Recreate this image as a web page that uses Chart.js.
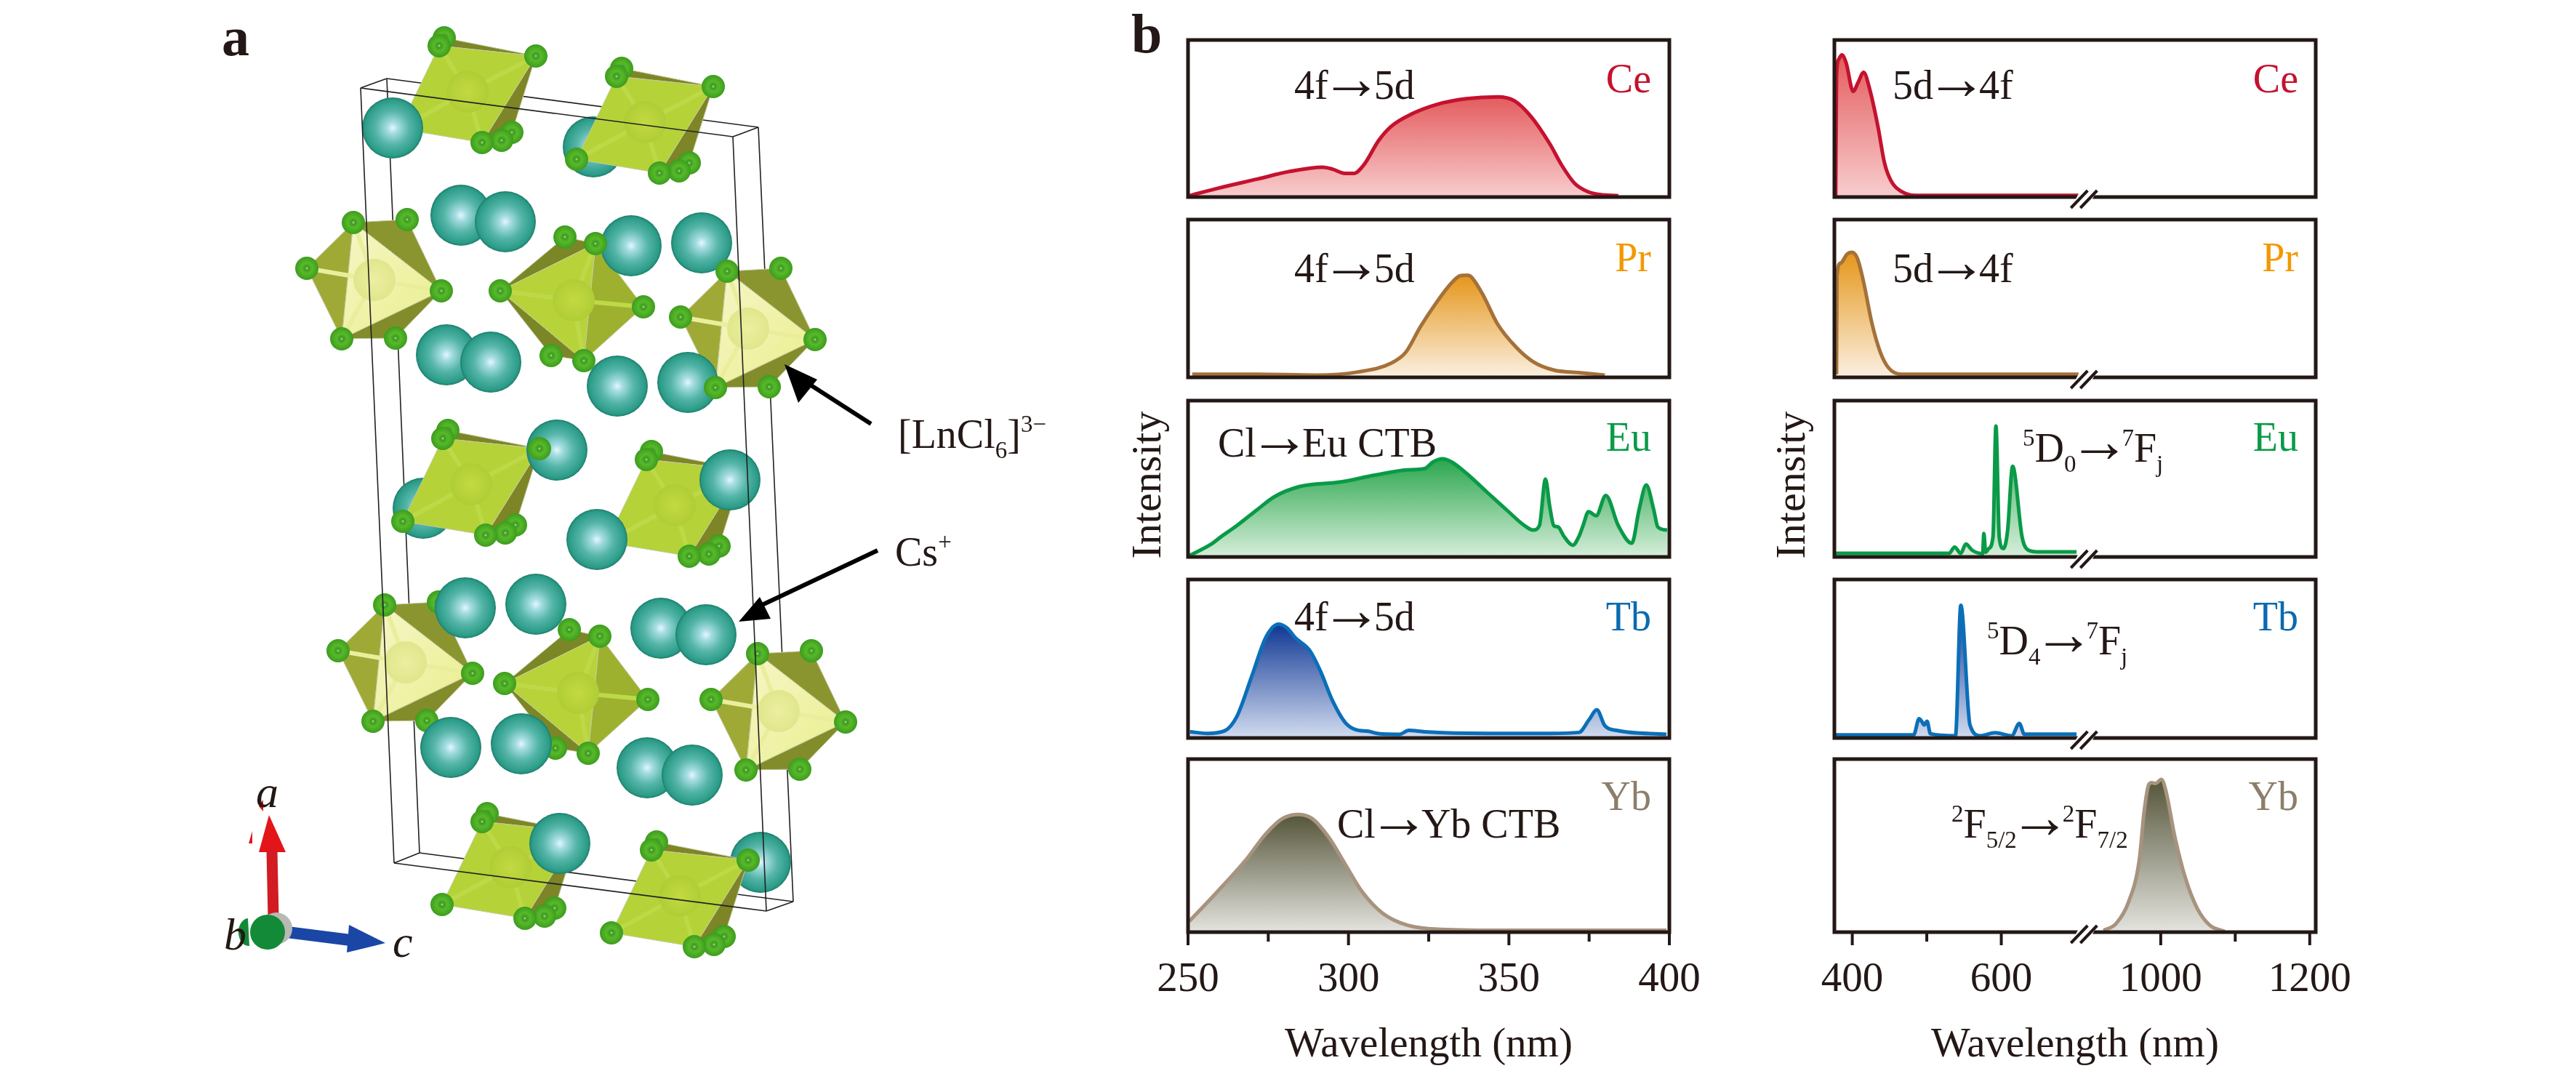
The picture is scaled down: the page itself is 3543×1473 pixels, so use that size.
<!DOCTYPE html>
<html>
<head>
<meta charset="utf-8">
<title>Lanthanide chloride excitation and emission spectra</title>
<script src="https://cdn.jsdelivr.net/npm/chart.js@4/dist/chart.umd.min.js"></script>
<style>
    html, body { margin: 0; background: #fff; }
    #page { position: relative; width: 3543px; height: 1473px; overflow: hidden; }
    #page canvas { position: absolute; }
    #overlay { position: absolute; left: 0; top: 0; z-index: 50; pointer-events: none; }
</style>
</head>
<body>
<div id="page"></div>
<script>
// excitation spectra, x in nm, y in % of panel height
const ceExNm = [250, 258.7, 271.7, 282, 291.9, 295, 298.4, 301.6, 304.9, 309.4, 313.3, 319.8, 327.6, 336.7, 346.4, 351.8, 357, 362.7, 366.6, 370.5, 374.4, 378.3, 384.1];
const ceExI = [0.6, 5.3, 11.5, 16.4, 19, 17.8, 15.2, 15, 20.8, 36, 45, 53, 59, 62.6, 63.8, 61.2, 51, 34, 19.8, 8.7, 3.6, 1.6, 0.8];
const prExNm = [251.3, 271.7, 289.9, 302.9, 313.3, 317.9, 322.4, 327.6, 332.2, 334.8, 336, 337, 338.3, 342, 346.4, 352.3, 357.5, 364, 371.8, 379.9];
const prExI = [2, 2, 1.4, 3.4, 9, 16, 32, 48, 60, 64.4, 64.6, 64.8, 63.6, 52, 34, 19, 10, 4.6, 3, 1.4];
const euExNm = [250, 257.4, 260, 265.2, 271.7, 276.9, 284.7, 297.7, 308.1, 318.5, 323.7, 326.3, 329.3, 332.2, 336.7, 343.2, 349.7, 354.9, 357.5, 359.5, 361.4, 362.7, 364, 365.3, 367.2, 369.9, 371.8, 373.1, 374.8, 377.2, 380.2, 384.1, 388.3, 390.6, 392.8, 395.1, 396.4, 399.3];
const euExI = [0.4, 8.4, 12.5, 20, 30.5, 38.5, 45, 48, 52.3, 55.7, 56.5, 60.7, 62.8, 60.7, 53.6, 41.4, 29.3, 20, 17.2, 20, 49.8, 32.6, 20, 19.2, 13, 7.5, 13, 20, 28.9, 26.4, 39.3, 20, 8.8, 30.5, 46, 30.5, 19.2, 17.2];
const tbExNm = [250.6, 256, 261.3, 265.2, 269.8, 274.3, 278.2, 280.8, 283.4, 288, 291.2, 295.1, 299, 302.3, 306.2, 309.4, 315.9, 318.8, 323.7, 343.2, 362.7, 371.8, 375, 377.4, 379.9, 383.5, 399.1];
const tbExI = [3.9, 2.9, 4.4, 13.5, 38.6, 63.7, 71.8, 69.5, 63.3, 55, 42.5, 23.2, 9.7, 5.2, 4.2, 2.7, 2.3, 4.8, 3.9, 2.9, 2.9, 3.5, 11.6, 17.8, 7.7, 4.8, 2.3];
const ybExNm = [250.4, 258.7, 267.8, 274.3, 279.5, 284.3, 288.6, 293.8, 299, 304.2, 310.7, 318.5, 328.9, 349.7, 399.1];
const ybExI = [6.3, 22.5, 41.2, 56.9, 65.7, 68, 65.7, 54.9, 39.2, 23.5, 10.8, 3.9, 1.6, 1, 1];

// emission spectra
const ceEmNm = [377.7, 378.8, 381.6, 386, 391.7, 401.2, 407.9, 415.2, 423.6, 434.8, 443.2, 451.6, 465.6, 490.8, 647.7, 703.8];
const ceEmI = [0.6, 76, 87.5, 90.5, 85.5, 67.3, 73, 79.4, 68.3, 44, 21.8, 10.7, 3.6, 1, 1, 1];
const prEmNm = [378.8, 379.4, 384.4, 392.8, 399.5, 406.8, 415.2, 426.4, 437.6, 448.8, 465.6, 703.8];
const prEmI = [2, 64.4, 72.4, 78, 79.3, 75.5, 60.4, 34.2, 16, 6, 2, 2];
const euEmNm = [377.7, 530, 537.3, 545.7, 552.4, 560.9, 575, 576.6, 579, 583.3, 588.9, 592.8, 597.3, 602.9, 608.5, 615.2, 628, 636.5, 647.7, 701];
const euEmI = [2.3, 2.3, 6.3, 2.3, 8.2, 4.3, 2.1, 15, 3, 5.4, 13, 83.7, 12.5, 5.4, 17, 58, 12.5, 4.3, 3.3, 3.3];
const tbEmNm = [377.7, 482.4, 489.7, 493.6, 496.4, 500.4, 504.9, 538.5, 545.7, 558, 572, 591.6, 614, 624.2, 630.9, 701];
const tbEmI = [2, 2, 12.2, 10.2, 8.2, 10.6, 2.7, 1.4, 83.7, 8.2, 1.4, 3.3, 1.4, 9.2, 2.4, 2.4];
const ybEmNm = [923.3, 940, 957, 971, 978, 984, 988, 993, 1001, 1007, 1019, 1033, 1049, 1066, 1086];
const ybEmI = [1, 4.9, 17.6, 41, 70.6, 85.3, 86.3, 85.9, 88.2, 81.4, 54.9, 31.4, 13.7, 3.9, 0.4];

// axis ticks
const leftTicks = [250, 275, 300, 325, 350, 375, 400];
const leftLabelled = [250, 300, 350, 400];
const rightTicks = [400, 500, 600, 1000, 1100, 1200];
const rightLabelled = [400, 600, 1000, 1200];

// the right axis skips 711-897 nm
const BREAK_AT = 711;
const BREAK_SKIP = 186;
const fold = (nm) => (nm > BREAK_AT ? nm - BREAK_SKIP : nm);
const unfold = (v) => (v > BREAK_AT ? v + BREAK_SKIP : v);

const INK = "#231815";
const SERIF = "'Liberation Serif', serif";
const rows = [[55, 295], [302, 543], [551, 790], [797, 1039], [1044, 1282]];
const looks = {
    Ce: { line: "#c4122f", top: "#e45c5e", bottom: "#f8cdce", label: "#c4122f" },
    Pr: { line: "#a5713a", top: "#e5961a", bottom: "#fbf0e2", label: "#f39800" },
    Eu: { line: "#0a9a48", top: "#2aa64c", bottom: "#d6eedb", label: "#0a9a48" },
    Tb: { line: "#0b6fb8", top: "#0f3793", bottom: "#d2dcf0", label: "#0b6ab0" },
    Yb: { line: "#a8937f", top: "#55553a", bottom: "#e4e4df", label: "#8c7e6a" },
};

const panelFrame = {
    id: "panelFrame",
    afterDatasetsDraw(chart, args, opts) {
        const { ctx, chartArea: a, scales } = chart;
        ctx.save();
        ctx.strokeStyle = INK;
        ctx.lineWidth = 5;
        ctx.strokeRect(a.left, a.top, a.right - a.left, a.bottom - a.top);

        if (opts.showTicks) {
            ctx.lineWidth = 4;
            scales.x.ticks.forEach((tick) => {
                const px = scales.x.getPixelForValue(tick.value);
                ctx.beginPath();
                ctx.moveTo(px, a.bottom);
                ctx.lineTo(px, a.bottom + (tick.major ? 18 : 13));
                ctx.stroke();
            });
        }

        if (opts.breakMark) {
            const cx = scales.x.getPixelForValue(BREAK_AT);
            const cy = a.bottom + 3;
            ctx.fillStyle = "#fff";
            ctx.beginPath();
            ctx.moveTo(cx - 18, cy + 12);
            ctx.lineTo(cx - 5, cy - 12);
            ctx.lineTo(cx + 18, cy - 12);
            ctx.lineTo(cx + 5, cy + 12);
            ctx.closePath();
            ctx.fill();
            ctx.lineWidth = 4;
            [-6.5, 6.5].forEach((off) => {
                ctx.beginPath();
                ctx.moveTo(cx + off - 11.5, cy + 12);
                ctx.lineTo(cx + off + 11.5, cy - 12);
                ctx.stroke();
            });
        }
        ctx.restore();
    },
};

function addPanel(cfg) {
    const marginX = 90;
    const marginTop = 20;
    const below = cfg.showAxis ? 190 : 24;
    const height = cfg.bottom - cfg.top;
    const canvas = document.createElement("canvas");
    canvas.style.left = cfg.left - marginX + "px";
    canvas.style.top = cfg.top - marginTop + "px";
    canvas.style.zIndex = 20 - cfg.order;
    canvas.width = cfg.right - cfg.left + marginX * 2;
    canvas.height = height + marginTop + below;
    document.getElementById("page").appendChild(canvas);

    const look = looks[cfg.name];
    const peak = Math.max(...cfg.values);

    return new Chart(canvas, {
        type: "line",
        data: {
            datasets: [
                {
                    label: cfg.name,
                    data: cfg.nm.map((nm, i) => ({ x: cfg.axis(nm), y: cfg.values[i] })),
                    borderColor: look.line,
                    borderWidth: 5,
                    cubicInterpolationMode: "monotone",
                    pointRadius: 0,
                    fill: "origin",
                    backgroundColor: (context) => {
                        const { ctx, chartArea, scales } = context.chart;
                        if (!chartArea) {
                            return look.top;
                        }
                        const grad = ctx.createLinearGradient(0, scales.y.getPixelForValue(peak), 0, chartArea.bottom);
                        grad.addColorStop(0, look.top);
                        grad.addColorStop(1, look.bottom);
                        return grad;
                    },
                },
            ],
        },
        options: {
            responsive: false,
            devicePixelRatio: 1,
            animation: false,
            events: [],
            layout: { padding: { left: marginX, right: marginX, top: marginTop, bottom: cfg.showAxis ? 0 : below } },
            plugins: {
                legend: { display: false },
                tooltip: { enabled: false },
                panelFrame: { showTicks: cfg.showAxis, breakMark: cfg.breakMark },
            },
            scales: {
                x: {
                    type: "linear",
                    display: cfg.showAxis,
                    min: cfg.min,
                    max: cfg.max,
                    afterBuildTicks: (axis) => {
                        axis.ticks = cfg.ticks.map((nm) => ({ value: cfg.axis(nm), major: cfg.labelled.includes(nm) }));
                    },
                    afterFit: (axis) => {
                        axis.height = below;
                    },
                    border: { display: false },
                    grid: { display: false, drawTicks: false },
                    ticks: {
                        autoSkip: false,
                        maxRotation: 0,
                        padding: 32,
                        color: INK,
                        font: { family: SERIF, size: 57 },
                        callback: (v) => {
                            const nm = Math.round(cfg.unaxis(v));
                            return cfg.labelled.includes(nm) ? String(nm) : "";
                        },
                    },
                    title: {
                        display: cfg.showAxis,
                        text: "Wavelength (nm)",
                        color: INK,
                        font: { family: SERIF, size: 57 },
                        padding: { top: 0, bottom: 0 },
                    },
                },
                y: { display: false, min: 0, max: 100 },
            },
        },
        plugins: [panelFrame],
    });
}

const names = ["Ce", "Pr", "Eu", "Tb", "Yb"];
const excitation = [[ceExNm, ceExI], [prExNm, prExI], [euExNm, euExI], [tbExNm, tbExI], [ybExNm, ybExI]];
const emission = [[ceEmNm, ceEmI], [prEmNm, prEmI], [euEmNm, euEmI], [tbEmNm, tbEmI], [ybEmNm, ybEmI]];

names.forEach((name, i) => {
    const last = i === names.length - 1;
    addPanel({
        name, order: i, left: 1634, right: 2296, top: rows[i][0], bottom: rows[i][1],
        nm: excitation[i][0], values: excitation[i][1],
        min: 250, max: 400, ticks: leftTicks, labelled: leftLabelled,
        axis: (v) => v, unaxis: (v) => v,
        showAxis: last, breakMark: false,
    });
    addPanel({
        name, order: i, left: 2523, right: 3185, top: rows[i][0], bottom: rows[i][1],
        nm: emission[i][0], values: emission[i][1],
        min: 376, max: 1022, ticks: rightTicks, labelled: rightLabelled,
        axis: fold, unaxis: unfold,
        showAxis: last, breakMark: true,
    });
});

// ---- text and the crystal drawing of panel a ----
function sup(t) { return `<tspan font-size="33" baseline-shift="22">${t}</tspan>`; }
function sub(t) { return `<tspan font-size="33" baseline-shift="-14">${t}</tspan>`; }
// the font's own arrow is short, so it is enlarged and pulled in to touch its neighbours
function arrow(before, after) {
    return `${before}<tspan font-size="84" dx="-10">→</tspan><tspan dx="-11">${after}</tspan>`;
}
function label(x, y, html, extra = "") {
    return `<text x="${x}" y="${y}" font-size="56" fill="${INK}" ${extra}>${html}</text>`;
}

const labelBaselines = [127, 373, 620, 867, 1114];
let textSvg = "";
names.forEach((name, i) => {
    [2271, 3161].forEach((x) => {
        textSvg += label(x, labelBaselines[i], name, `text-anchor="end" style="fill:${looks[name].label}"`);
    });
});
textSvg += label(1780, 136, arrow("4f", "5d")) + label(1780, 388, arrow("4f", "5d")) + label(1675, 628, arrow("Cl", "Eu CTB"));
textSvg += label(1780, 867, arrow("4f", "5d")) + label(1839, 1152, arrow("Cl", "Yb CTB"));
textSvg += label(2603, 136, arrow("5d", "4f")) + label(2603, 388, arrow("5d", "4f"));
textSvg += label(2782, 635, arrow(`${sup(5)}D${sub(0)}`, `${sup(7)}F${sub("j")}`));
textSvg += label(2733, 900, arrow(`${sup(5)}D${sub(4)}`, `${sup(7)}F${sub("j")}`));
textSvg += label(2684, 1152, arrow(`${sup(2)}F${sub("5/2")}`, `${sup(2)}F${sub("7/2")}`));
[[1596, 667], [2482, 667]].forEach(([x, y]) => {
    textSvg += `<text x="${x}" y="${y}" font-size="58" fill="${INK}" text-anchor="middle" transform="rotate(-90 ${x} ${y})">Intensity</text>`;
});
textSvg += `<text x="305" y="76" font-size="76" font-weight="bold" fill="${INK}">a</text>`;
textSvg += `<text x="1556" y="72" font-size="76" font-weight="bold" fill="${INK}">b</text>`;
textSvg += label(1235, 616, `[LnCl${sub(6)}]${sup("3−")}`);
textSvg += label(1231, 778, `Cs${sup("+")}`);
textSvg += `<g font-style="italic" font-size="62" fill="${INK}">
    <text x="352" y="1110">a</text><text x="308" y="1306">b</text><text x="540" y="1316">c</text></g>`;

const frontCs = [[540, 176], [634, 296], [695, 305], [868, 338], [965, 334], [614, 488], [675, 498], [849, 531], [946, 526], [766, 619], [1004, 660], [821, 742], [640, 836], [737, 831], [909, 864], [971, 873], [620, 1028], [717, 1023], [890, 1056], [952, 1066], [770, 1160]];
const backCs = [[816, 202], [582, 699], [1046, 1186]];
const squareOcta = [
    { dx: -244, dy: -42, hide: ["L"] }, { dx: 0, dy: 0, hide: [] },
    { dx: -239, dy: 498, hide: [] }, { dx: 41, dy: 527, hide: ["L", "R"] },
    { dx: -185, dy: 1025, hide: ["R"] }, { dx: 48, dy: 1064, hide: [] },
];
const hexOcta = [[0, 0], [514, 67], [43, 526], [556, 593]];
const midOcta = [[0, 0], [6, 540]];

const square = { TL: [848, 105], BK: [855, 94], R: [981, 119], B: [907, 238], B2: [934, 235], B3: [948, 224], L: [793, 219], C: [887, 168] };
const hex = { T: [486, 306], TR: [560, 302], L: [422, 369], R: [607, 400], B: [470, 466], BR: [544, 465], C: [515, 385] };
const mid = { BK: [777, 326], T: [819, 335], L: [688, 400], R: [885, 422], B: [803, 496], B2: [758, 489], C: [789, 413] };

const poly = (pts, fill) => `<polygon points="${pts.map((p) => p.join(",")).join(" ")}" fill="${fill}" stroke="#c4cba0" stroke-width="1"/>`;
const shift = (shape, dx, dy) => Object.fromEntries(Object.entries(shape).map(([k, p]) => [k, [p[0] + dx, p[1] + dy]]));
const ball = (p, r, id) => `<circle cx="${p[0]}" cy="${p[1]}" r="${r}" fill="url(#${id})"/>`;
const seg = (a, b, w, color) => `<line x1="${a[0]}" y1="${a[1]}" x2="${b[0]}" y2="${b[1]}" stroke="${color}" stroke-width="${w}"/>`;
const bonds = (o, keys, color) => keys.map((k) => seg(o.C, o[k], 6, color)).join("");

let faces = "";
let backCl = "";
let frontCl = "";
squareOcta.forEach(({ dx, dy, hide }) => {
    const o = shift(square, dx, dy);
    faces += poly([o.TL, o.BK, o.R], "#7d8526") + poly([o.R, o.B3, o.B], "#7d8526");
    faces += poly([o.TL, o.R, o.B, o.L], "#b5d238");
    faces += bonds(o, ["L", "R", "B", "TL"], "#bdd948");
    faces += ball(o.C, 29, "octaGreen");
    backCl += ball(o.BK, 16, "cl") + ball(o.B3, 16, "cl");
    backCl += ball(o.B2, 16, "cl");
    ["TL", "R", "B", "L"].filter((k) => !hide.includes(k)).forEach((k) => {
        frontCl += ball(o[k], 16, "cl");
    });
});
hexOcta.forEach(([dx, dy]) => {
    const o = shift(hex, dx, dy);
    faces += poly([o.T, o.TR, o.R], "#8a9530") + poly([o.B, o.BR, o.R], "#828c2a");
    faces += poly([o.T, o.L, o.B], "#9faa36");
    faces += poly([o.T, o.R, o.B], "url(#paleFace)");
    faces += bonds(o, ["L", "R", "T", "B"], "#eaee9c");
    faces += ball(o.C, 29, "octaPale");
    backCl += ball(o.TR, 16, "cl") + ball(o.BR, 16, "cl");
    ["T", "L", "R", "B"].forEach((k) => {
        frontCl += ball(o[k], 16, "cl");
    });
});
midOcta.forEach(([dx, dy]) => {
    const o = shift(mid, dx, dy);
    faces += poly([o.BK, o.T, o.L], "#7b8726") + poly([o.L, o.B2, o.B], "#7b8726");
    faces += poly([o.T, o.R, o.B], "#9db12f");
    faces += poly([o.L, o.T, o.B], "#b8d33a");
    faces += bonds(o, ["L", "R", "T", "B"], "#bdd948");
    faces += ball(o.C, 29, "octaGreen");
    backCl += ball(o.BK, 16, "cl") + ball(o.B2, 16, "cl");
    ["T", "L", "R", "B"].forEach((k) => {
        frontCl += ball(o[k], 16, "cl");
    });
});

const boxBack = [
    [[532, 108], [1043, 175]], [[577, 1173], [1091, 1240]],
    [[532, 108], [577, 1173]], [[1043, 175], [1091, 1240]],
];
const boxFront = [
    [[496, 121], [1008, 188]], [[542, 1187], [1054, 1253]],
    [[496, 121], [542, 1187]], [[1008, 188], [1054, 1253]],
    [[496, 121], [532, 108]], [[1008, 188], [1043, 175]],
    [[542, 1187], [577, 1173]], [[1054, 1253], [1091, 1240]],
];

const crystal = `
    ${boxBack.map(([a, b]) => seg(a, b, 1.6, "#222")).join("")}
    ${backCs.map((p) => ball(p, 42, "cs")).join("")}
    ${faces}${backCl}
    ${frontCs.map((p) => ball(p, 42, "cs")).join("")}
    ${frontCl}
    ${boxFront.map(([a, b]) => seg(a, b, 1.6, "#222")).join("")}
    <line x1="1198" y1="583" x2="1100" y2="520" stroke="#000" stroke-width="6"/>
    <polygon points="1079,501 1124,522 1098,554" fill="#000"/>
    <line x1="1207" y1="757" x2="1046" y2="833" stroke="#000" stroke-width="6"/>
    <polygon points="1016,855 1045,821 1060,851" fill="#000"/>
    <polygon points="356,1109 362,1100 362,1116" fill="#e3151a"/>
    <polygon points="342,1160 347,1143 347,1160" fill="#e3151a"/>
    <polygon points="370,1121 393,1172 356,1172" fill="#e3151a"/>
    <line x1="376" y1="1262" x2="374" y2="1170" stroke="#d01c22" stroke-width="15"/>
    <line x1="395" y1="1282" x2="482" y2="1293" stroke="#1a46a6" stroke-width="16"/>
    <polygon points="530,1297 480,1272 477,1310" fill="#1a46a6"/>
    <circle cx="380" cy="1277" r="22" fill="#b9b9b4"/>
    <path d="M 341 1263 a 14 19 0 0 0 2 38 z" fill="#138a38"/>
    <circle cx="368" cy="1282" r="24" fill="#138a38"/>
`;

const defs = `<defs>
    <radialGradient id="cs"><stop offset="0" stop-color="#e6f6fb"/><stop offset="0.18" stop-color="#a5dde2"/>
        <stop offset="0.55" stop-color="#55b5a8"/><stop offset="0.92" stop-color="#2a9b87"/><stop offset="1" stop-color="#1e7c6b"/></radialGradient>
    <radialGradient id="cl"><stop offset="0" stop-color="#b9e68a"/><stop offset="0.15" stop-color="#3a9a22"/>
        <stop offset="0.45" stop-color="#58b92a"/><stop offset="1" stop-color="#3c9c1e"/></radialGradient>
    <radialGradient id="octaGreen"><stop offset="0" stop-color="#c3da40"/><stop offset="1" stop-color="#b0cd36"/></radialGradient>
    <radialGradient id="octaPale"><stop offset="0" stop-color="#ecefa0"/><stop offset="1" stop-color="#e0e68c"/></radialGradient>
    <linearGradient id="paleFace" x1="0" y1="0" x2="1" y2="1"><stop offset="0" stop-color="#f6f6c8"/><stop offset="1" stop-color="#eaee8a"/></linearGradient>
</defs>`;

document.getElementById("page").insertAdjacentHTML(
    "beforeend",
    `<svg id="overlay" width="3543" height="1473" font-family="${SERIF.replace(/'/g, "")}">${defs}${crystal}${textSvg}</svg>`
);
</script>
</body>
</html>
